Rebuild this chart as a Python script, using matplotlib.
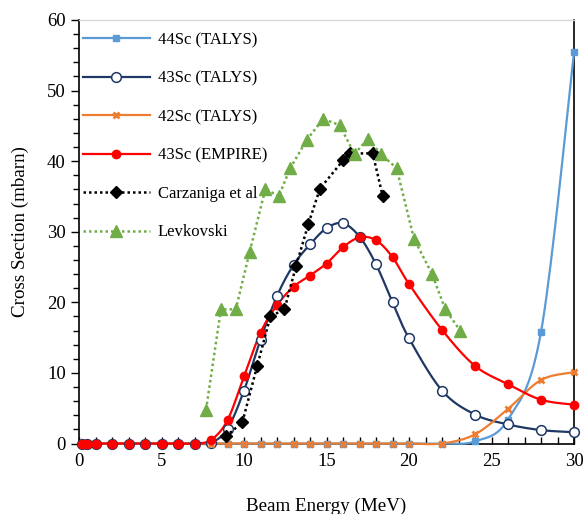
import numpy as np
import matplotlib
matplotlib.use("Agg")
import matplotlib.pyplot as plt
from matplotlib.ticker import MultipleLocator

plt.rcParams['font.family'] = ['Liberation Serif', 'DejaVu Serif']

# ---- data ----
talys_x = [0.2, 0.5, 1, 2, 3, 4, 5, 6, 7, 8, 9, 10, 11, 12, 13, 14, 15, 16, 17, 18, 19, 20, 22, 24, 26, 28, 30]
sc44_talys = [0, 0, 0, 0, 0, 0, 0, 0, 0, 0, 0, 0, 0, 0, 0, 0, 0, 0, 0, 0, 0, 0, 0, 0.3, 3.4, 15.8, 55.4]
sc43_talys = [0, 0, 0, 0, 0, 0, 0, 0, 0, 0.1, 2.1, 7.5, 14.7, 20.9, 25.3, 28.2, 30.5, 31.2, 29.3, 25.4, 20.0, 14.9, 7.5, 4.1, 2.7, 1.9, 1.6]
sc42_talys = [0, 0, 0, 0, 0, 0, 0, 0, 0, 0, 0, 0, 0, 0, 0, 0, 0, 0, 0, 0, 0, 0, 0, 1.3, 4.9, 9.0, 10.1]
sc43_empire = [0, 0, 0, 0, 0, 0, 0, 0, 0, 0.5, 3.3, 9.5, 15.7, 19.6, 22.2, 23.8, 25.5, 27.8, 29.2, 28.8, 26.4, 22.6, 16.1, 11.0, 8.4, 6.2, 5.5]

carz_x = [8.9, 9.9, 10.8, 11.6, 12.45, 13.15, 13.9, 14.6, 16.0, 16.4, 17.8, 18.4]
carz_y = [1.0, 3.0, 11.0, 18.0, 19.0, 25.1, 31.1, 36.1, 40.1, 41.1, 41.1, 35.1]

levk_x = [7.7, 8.6, 9.5, 10.35, 11.3, 12.1, 12.8, 13.8, 14.8, 15.8, 16.7, 17.5, 18.3, 19.25, 20.3, 21.4, 22.2, 23.1]
levk_y = [4.8, 19.0, 19.0, 27.2, 36.1, 35.0, 39.0, 43.0, 46.0, 45.1, 41.0, 43.2, 41.0, 39.0, 29.0, 24.0, 19.0, 16.0]

x_ticks = [0, 5, 10, 15, 20, 25, 30]
y_ticks = [0, 10, 20, 30, 40, 50, 60]


def smooth(x, y, n=20):
    """Catmull-Rom style smoothing for drawing (like Excel smoothed lines)."""
    x = np.asarray(x, float)
    y = np.asarray(y, float)
    px = np.concatenate([[x[0]], x, [x[-1]]])
    py = np.concatenate([[y[0]], y, [y[-1]]])
    xs, ys = [], []
    for i in range(1, len(px) - 2):
        p0 = np.array([px[i - 1], py[i - 1]])
        p1 = np.array([px[i], py[i]])
        p2 = np.array([px[i + 1], py[i + 1]])
        p3 = np.array([px[i + 2], py[i + 2]])
        c1 = p1 + (p2 - p0) / 6.0
        c2 = p2 - (p3 - p1) / 6.0
        t = np.linspace(0, 1, n)[:, None]
        pts = ((1 - t) ** 3) * p1 + 3 * ((1 - t) ** 2) * t * c1 + 3 * (1 - t) * t ** 2 * c2 + t ** 3 * p2
        xs.extend(pts[:, 0])
        ys.extend(pts[:, 1])
    return np.array(xs), np.array(ys)


fig = plt.figure(figsize=(5.85, 5.14), dpi=100)
ax = fig.add_axes([79 / 585, 1 - 443.5 / 514, (574 - 79) / 585, (443.5 - 20) / 514])

c44 = '#5B9BD5'
c43 = '#1F3864'
c42 = '#ED7D31'
cem = '#FF0000'
cgr = '#70AD47'

series = [
    (sc44_talys, c44, dict(marker='s', ms=4.5, mfc=c44, mec=c44), '44Sc (TALYS)'),
    (sc43_talys, c43, dict(marker='o', ms=7, mfc='white', mec=c43, mew=1.1), '43Sc (TALYS)'),
    (sc42_talys, c42, dict(marker='x', ms=5, mec=c42, mew=2.0), '42Sc (TALYS)'),
    (sc43_empire, cem, dict(marker='o', ms=6, mfc=cem, mec=cem), '43Sc (EMPIRE)'),
]
handles = []
for ys, col, mk, lab in series:
    sx, sy = smooth(talys_x, ys)
    ax.plot(sx, sy, color=col, lw=1.6, zorder=3, clip_on=False)
    ax.plot(talys_x, ys, ls='none', zorder=4, clip_on=False, **mk)
    h, = ax.plot([], [], color=col, lw=1.6, **mk)
    handles.append((h, lab))

h, = ax.plot(carz_x, carz_y, color='black', ls=(0, (1, 1.2)), lw=1.8, marker='D', ms=6,
             mfc='black', mec='black', zorder=5)
handles.append((h, 'Carzaniga et al'))
h, = ax.plot(levk_x, levk_y, color=cgr, ls=(0, (1, 1.2)), lw=1.8, marker='^', ms=8,
             mfc=cgr, mec=cgr, zorder=5)
handles.append((h, 'Levkovski'))

ax.set_xlim(0, 30)
ax.set_ylim(0, 60)
ax.set_xticks(x_ticks)
ax.set_yticks(y_ticks)
ax.xaxis.set_minor_locator(MultipleLocator(1))
ax.yaxis.set_minor_locator(MultipleLocator(2))
ax.tick_params(axis='x', which='both', direction='in', length=5, width=1, labelsize=13.5, pad=7)
ax.tick_params(axis='y', which='major', direction='out', length=6, width=1, labelsize=13.5)
ax.tick_params(axis='y', which='minor', direction='out', length=4, width=1)
for s in ['left', 'bottom', 'right']:
    ax.spines[s].set_color('black')
    ax.spines[s].set_linewidth(1.2)
ax.spines['top'].set_color('#D9D9D9')
ax.spines['top'].set_linewidth(1)

ax.set_xlabel('Beam Energy (MeV)', fontsize=13.7, labelpad=20)
ax.set_ylabel('Cross Section (mbarn)', fontsize=13.7, labelpad=13)

leg = ax.legend([h for h, _ in handles], [l for _, l in handles], loc='upper left',
                bbox_to_anchor=(83 / 585, 1 - 32 / 514), bbox_transform=fig.transFigure,
                frameon=False, fontsize=12, handlelength=4.0, handletextpad=0.5,
                labelspacing=1.35, borderpad=0, borderaxespad=0, numpoints=1)

fig.savefig('out.png', dpi=100)
